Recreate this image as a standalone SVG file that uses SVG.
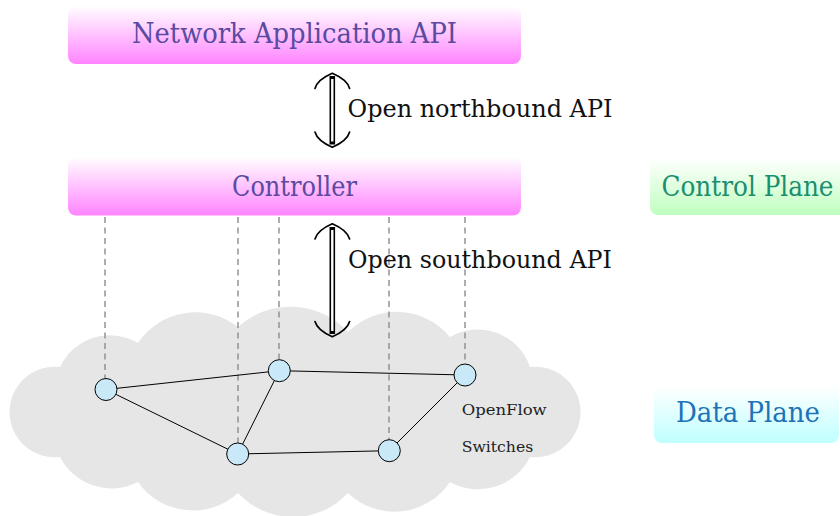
<svg xmlns="http://www.w3.org/2000/svg" width="840" height="516" viewBox="0 0 840 516">
<defs>
<linearGradient id="gMag" x1="0" y1="0" x2="0" y2="1"><stop offset="0" stop-color="#ffffff"/><stop offset="1" stop-color="#ff84ff"/></linearGradient>
<linearGradient id="gGreen" x1="0" y1="0" x2="0" y2="1"><stop offset="0" stop-color="#ffffff"/><stop offset="1" stop-color="#bfffbf"/></linearGradient>
<linearGradient id="gCyan" x1="0" y1="0" x2="0" y2="1"><stop offset="0" stop-color="#ffffff"/><stop offset="1" stop-color="#bfffff"/></linearGradient>
</defs>
<style>
.title{font-size:27.5px;fill:#5a4aa0;text-anchor:middle;}
.api{font-size:24.5px;fill:#111;}
.small{font-size:14.5px;fill:#222;}
.dash{stroke:#8c8c8c;stroke-width:1.4;stroke-dasharray:6 4.5;fill:none;}
.edge{stroke:#000;stroke-width:1;fill:none;}
.sw{fill:#c9e9f8;stroke:#000;stroke-width:1;}
.shaftO{stroke:#000;stroke-width:5.6;fill:none;}
.shaftI{stroke:#fff;stroke-width:2.4;fill:none;}
.head{stroke:#000;stroke-width:1.7;fill:none;stroke-linecap:round;}
</style>

<g id="cloud">
<path fill="#e6e6e6" d="M60,457 A45.3,45.3 0 1 1 60,367 A55,55 0 0 1 138,343 A69,69 0 0 1 238,327 A78,78 0 0 1 348,332 A69,69 0 0 1 450,337 A55,55 0 0 1 530,367 A45.3,45.3 0 1 1 530,457 A58,58 0 0 1 450,482 A67,67 0 0 1 348,493 A75,75 0 0 1 238,493 A67,67 0 0 1 138,482 A58,58 0 0 1 60,457 Z"/>
</g>

<g id="network-application-api">
<rect x="68" y="6" width="453" height="58" rx="8" fill="url(#gMag)"/>
<text class="title" font-family="'DejaVu Serif', serif" x="294.5" y="42.7" textLength="325" lengthAdjust="spacingAndGlyphs">Network Application API</text>
</g>

<g id="controller">
<rect x="68" y="157" width="453" height="58.5" rx="8" fill="url(#gMag)"/>
<text class="title" font-family="'DejaVu Serif', serif" x="294.5" y="195.5" textLength="125" lengthAdjust="spacingAndGlyphs">Controller</text>
</g>

<g id="control-plane">
<rect x="650" y="158" width="198" height="57" rx="8" fill="url(#gGreen)"/>
<text class="title" font-family="'DejaVu Serif', serif" x="747.5" y="195.5" style="fill:#1a8f6f" textLength="172" lengthAdjust="spacingAndGlyphs">Control Plane</text>
</g>

<g id="data-plane">
<rect x="654" y="386" width="185" height="57" rx="8" fill="url(#gCyan)"/>
<text class="title" font-family="'DejaVu Serif', serif" x="748" y="422" style="fill:#1d72b8" textLength="144" lengthAdjust="spacingAndGlyphs">Data Plane</text>
</g>

<g id="connectors">
<line class="shaftO" x1="332.3" y1="76" x2="332.3" y2="144.5"/>
<line class="shaftI" x1="332.3" y1="79" x2="332.3" y2="141.5"/>
<path class="head" d="M315,88.5 C317,81 326,76 332.3,73.3 C338.6,76 347.6,81 349.6,88.5"/>
<path class="head" d="M315,132 C317,139.5 326,144.5 332.3,147.3 C338.6,144.5 347.6,139.5 349.6,132"/>
<line class="shaftO" x1="332.3" y1="227" x2="332.3" y2="334"/>
<line class="shaftI" x1="332.3" y1="230" x2="332.3" y2="331"/>
<path class="head" d="M315,239 C317,231.5 326,226.5 332.3,223.8 C338.6,226.5 347.6,231.5 349.6,239"/>
<path class="head" d="M315,321.5 C317,329 326,334 332.3,336.8 C338.6,334 347.6,329 349.6,321.5"/>
<line class="dash" x1="105" y1="217" x2="105" y2="378"/>
<line class="dash" x1="238" y1="217" x2="238" y2="443"/>
<line class="dash" x1="279" y1="217" x2="279" y2="360"/>
<line class="dash" x1="389" y1="217" x2="389" y2="440"/>
<line class="dash" x1="465" y1="217" x2="465" y2="364"/>
<line class="edge" x1="106" y1="389.5" x2="279.3" y2="370.7"/>
<line class="edge" x1="279.3" y1="370.7" x2="465" y2="375"/>
<line class="edge" x1="106" y1="389.5" x2="237.7" y2="454"/>
<line class="edge" x1="279.3" y1="370.7" x2="237.7" y2="454"/>
<line class="edge" x1="237.7" y1="454" x2="389.3" y2="450.7"/>
<line class="edge" x1="389.3" y1="450.7" x2="465" y2="375"/>
</g>

<g id="api-labels">
<text class="api" font-family="'DejaVu Serif', serif" x="347.5" y="116.7" textLength="265" lengthAdjust="spacingAndGlyphs">Open northbound API</text>
<text class="api" font-family="'DejaVu Serif', serif" x="348" y="268.3" textLength="264" lengthAdjust="spacingAndGlyphs">Open southbound API</text>
</g>

<g id="switch-1"><circle class="sw" cx="106" cy="389.5" r="11"/></g>
<g id="switch-2"><circle class="sw" cx="279.3" cy="370.7" r="11"/></g>
<g id="switch-3"><circle class="sw" cx="465" cy="375" r="11"/></g>
<g id="switch-4"><circle class="sw" cx="237.7" cy="454" r="11"/></g>
<g id="switch-5"><circle class="sw" cx="389.3" cy="450.7" r="11"/></g>

<g id="openflow-label">
<text class="small" font-family="'DejaVu Serif', serif" x="461.7" y="415" textLength="85" lengthAdjust="spacingAndGlyphs">OpenFlow</text>
<text class="small" font-family="'DejaVu Serif', serif" x="461.7" y="451.7" textLength="71.5" lengthAdjust="spacingAndGlyphs">Switches</text>
</g>
</svg>
